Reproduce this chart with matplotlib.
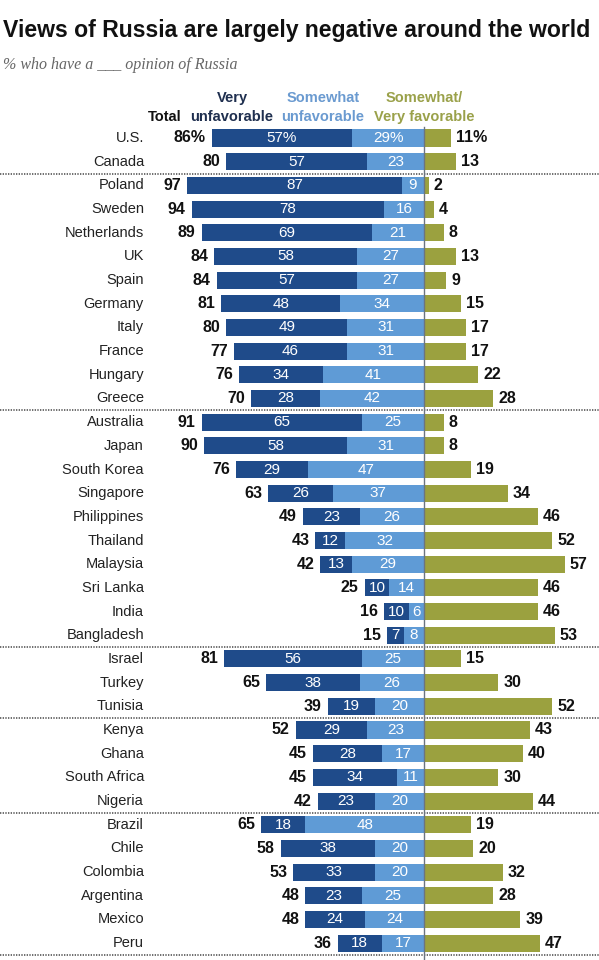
import matplotlib
matplotlib.use("Agg")
import matplotlib.pyplot as plt

countries = ["U.S.", "Canada", "Poland", "Sweden", "Netherlands", "UK", "Spain",
             "Germany", "Italy", "France", "Hungary", "Greece", "Australia", "Japan",
             "South Korea", "Singapore", "Philippines", "Thailand", "Malaysia",
             "Sri Lanka", "India", "Bangladesh", "Israel", "Turkey", "Tunisia",
             "Kenya", "Ghana", "South Africa", "Nigeria", "Brazil", "Chile",
             "Colombia", "Argentina", "Mexico", "Peru"]
total = [86, 80, 97, 94, 89, 84, 84, 81, 80, 77, 76, 70, 91, 90, 76, 63, 49, 43, 42,
         25, 16, 15, 81, 65, 39, 52, 45, 45, 42, 65, 58, 53, 48, 48, 36]
very_unfav = [57, 57, 87, 78, 69, 58, 57, 48, 49, 46, 34, 28, 65, 58, 29, 26, 23, 12, 13,
              10, 10, 7, 56, 38, 19, 29, 28, 34, 23, 18, 38, 33, 23, 24, 18]
some_unfav = [29, 23, 9, 16, 21, 27, 27, 34, 31, 31, 41, 42, 25, 31, 47, 37, 26, 32, 29,
              14, 6, 8, 25, 26, 20, 23, 17, 11, 20, 48, 20, 20, 25, 24, 17]
favorable = [11, 13, 2, 4, 8, 13, 9, 15, 17, 17, 22, 28, 8, 8, 19, 34, 46, 52, 57,
             46, 46, 53, 15, 30, 52, 43, 40, 30, 44, 19, 20, 32, 28, 39, 47]
# rows after which a dotted separator is drawn
group_ends = [1, 11, 21, 24, 28, 34]

DARK = "#1f4b8a"
LIGHT = "#5f9bd6"
OLIVE = "#9ba13f"

W, H = 599, 960
PX_PER_UNIT = 2.47
CENTER = 424
ROW0, ROW_STEP = 138, 23.68

fig = plt.figure(figsize=(W / 100, H / 100), dpi=100)
ax = fig.add_axes([0, 0, 1, 1])
ax.set_xlim(-CENTER / PX_PER_UNIT, (W - CENTER) / PX_PER_UNIT)
ax.set_ylim((H - ROW0) / ROW_STEP, -ROW0 / ROW_STEP)
ax.axis("off")

def px(p):
    return p / PX_PER_UNIT

sans = "Liberation Sans"
ys = range(len(countries))
ax.barh(ys, [-v for v in very_unfav], left=[-s for s in some_unfav], height=0.72,
        color=DARK, zorder=2)
ax.barh(ys, [-s for s in some_unfav], height=0.72, color=LIGHT, zorder=2)
ax.barh(ys, favorable, height=0.72, color=OLIVE, zorder=2)

for i, c in enumerate(countries):
    pct = "%" if i == 0 else ""
    left = -(very_unfav[i] + some_unfav[i])
    ax.text(px(144 - CENTER), i, c, ha="right", va="center", fontsize=10.5,
            family=sans, color="#222222")
    ax.text(left - px(6), i, f"{total[i]}{pct}", ha="right", va="center",
            fontsize=11.5, family=sans, weight="bold", color="#111111")
    ax.text(left + very_unfav[i] / 2, i, f"{very_unfav[i]}{pct}", ha="center",
            va="center", fontsize=11, family=sans, color="white", zorder=3)
    ax.text(-some_unfav[i] / 2, i, f"{some_unfav[i]}{pct}", ha="center",
            va="center", fontsize=11, family=sans, color="white", zorder=3)
    ax.text(favorable[i] + px(5), i, f"{favorable[i]}{pct}", ha="left",
            va="center", fontsize=11.5, family=sans, weight="bold", color="#111111")

for g in group_ends:
    ax.plot([-CENTER / PX_PER_UNIT, (W - CENTER) / PX_PER_UNIT], [g + 0.5, g + 0.5],
            color="#555555", lw=1.2, ls=(0, (0.8, 0.8)), zorder=1)

ax.plot([0, 0], [-0.45, (H - ROW0) / ROW_STEP], color="#6b7480", lw=1, zorder=4)

# header
hy1 = (98 - ROW0) / ROW_STEP
hy2 = (117 - ROW0) / ROW_STEP
ax.text(px(182 - CENTER), hy2, "Total", ha="right", va="center", fontsize=10.5,
        family=sans, weight="bold", color="#111111")
ax.text(px(232 - CENTER), hy1, "Very", ha="center", va="center", fontsize=10.5,
        family=sans, weight="bold", color="#1f2f4f")
ax.text(px(232 - CENTER), hy2, "unfavorable", ha="center", va="center", fontsize=10.5,
        family=sans, weight="bold", color="#1f2f4f")
ax.text(px(323 - CENTER), hy1, "Somewhat", ha="center", va="center", fontsize=10.5,
        family=sans, weight="bold", color="#6a9ad0")
ax.text(px(323 - CENTER), hy2, "unfavorable", ha="center", va="center", fontsize=10.5,
        family=sans, weight="bold", color="#6a9ad0")
ax.text(px(424 - CENTER), hy1, "Somewhat/", ha="center", va="center", fontsize=10.5,
        family=sans, weight="bold", color="#9aa14a")
ax.text(px(424 - CENTER), hy2, "Very favorable", ha="center", va="center",
        fontsize=10.5, family=sans, weight="bold", color="#9aa14a")

fig.text(3 / W, 1 - 31 / H, "Views of Russia are largely negative around the world",
         ha="left", va="center", fontsize=16.6, family=sans, weight="bold",
         color="#111111")
fig.text(3 / W, 1 - 65 / H, "% who have a ___ opinion of Russia", ha="left",
         va="center", fontsize=11.5, family="Liberation Serif", style="italic",
         color="#666666")

fig.savefig("out.png", dpi=100)
